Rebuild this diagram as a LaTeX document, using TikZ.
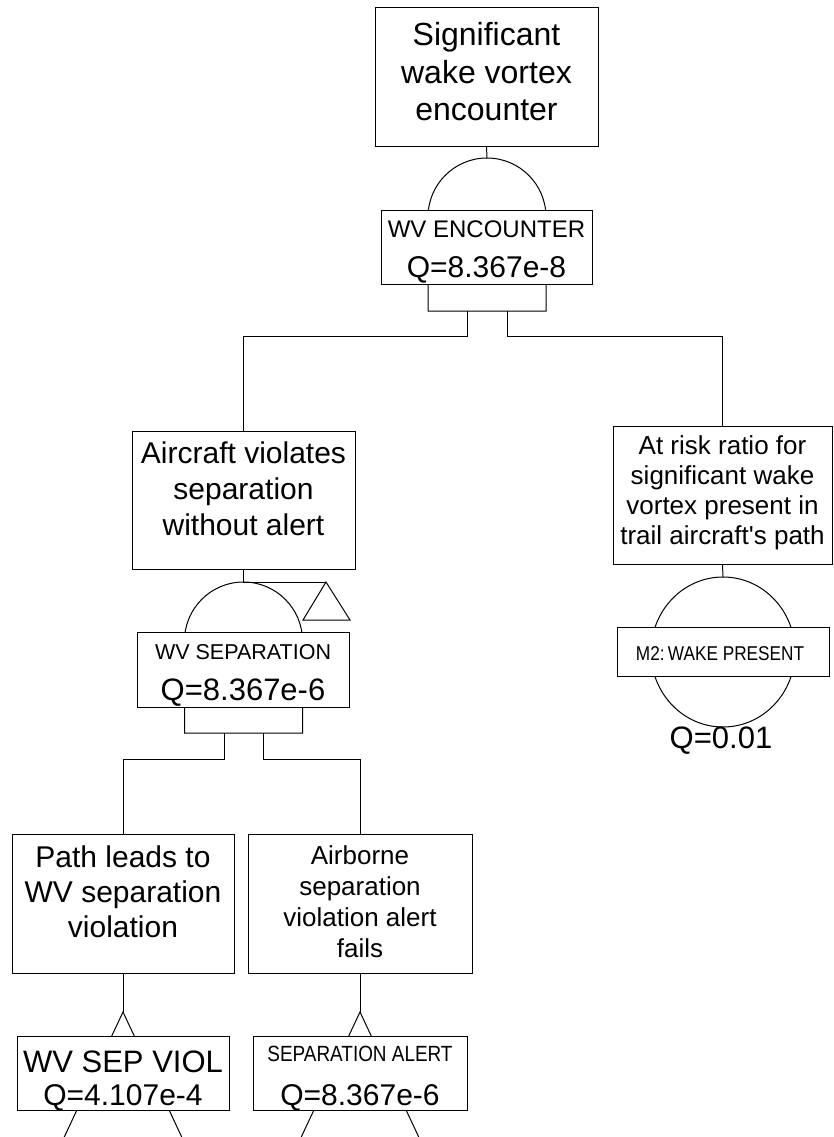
\documentclass[tikz,border=0pt]{standalone}
\usepackage{fontspec}
\setmainfont{Liberation Sans}
\newfontfamily\narrowsf[FakeStretch=0.86]{Liberation Sans}
\newcommand\setfs[2]{\fontsize{#1}{#2}\selectfont}

\begin{document}
\begin{tikzpicture}[x=1pt,y=1pt,line width=1pt,
  box/.style={draw=black,fill=white,inner sep=0pt},
  gate/.style={draw=black,fill=white,line join=miter},
  wire/.style={draw=black,line join=miter},
  txt/.style={inner sep=0pt,align=center,text=black}]
\useasboundingbox[fill=white] (0,0) rectangle (833,-1137);

% ---------- event boxes ----------
\node[box,minimum width=223pt,minimum height=138pt] (top)  at (486.5,-77)   {};
\node[box,minimum width=223pt,minimum height=138pt] (air)  at (243.5,-500)  {};
\node[box,minimum width=219pt,minimum height=138pt] (risk) at (722.5,-495)  {};
\node[box,minimum width=222pt,minimum height=139pt] (path) at (123,-903.5)  {};
\node[box,minimum width=224pt,minimum height=139pt] (alrt) at (360,-903.5)  {};

\node[txt,font=\setfs{32}{37.5}] (topT) at (486.5,-72)
  {Significant\\wake vortex\\encounter};
\node[txt,font=\setfs{30}{36}] (airT) at (243.5,-489)
  {Aircraft violates\\separation\\without alert};
\node[txt,font=\setfs{26}{30}] (riskT) at (722.5,-493)
  {At risk ratio for\\significant wake\\vortex present in\\trail aircraft\textquotesingle s path};
\node[txt,font=\setfs{30}{35}] (pathT) at (123,-892)
  {Path leads to\\WV separation\\violation};
\node[txt,font=\setfs{26}{31}] (alrtT) at (360,-902)
  {Airborne\\separation\\violation alert\\fails};

% ---------- gate anchor points ----------
\coordinate (g1top) at (487,-158);
\coordinate (g1l)   at (467,-311);
\coordinate (g1r)   at (507,-311);
\coordinate (g2top) at (243.5,-582);
\coordinate (g2l)   at (224,-733);
\coordinate (g2r)   at (263,-733);
\coordinate (xfer)  at (326,-582);
\coordinate (m2top) at (723,-577);
\coordinate (t1top) at (123,-1012);
\coordinate (t2top) at (360,-1012);

% ---------- AND gates ----------
\path[gate] (428,-311) -- (428,-217) arc[start angle=180,end angle=0,radius=59]
  -- (546,-311) -- cycle;
\path[gate] (184.5,-733) -- (184.5,-641) arc[start angle=180,end angle=0,radius=59]
  -- (302.5,-733) -- cycle;

% transfer-out triangle beside the second gate
\path[gate] (xfer) -- (303,-620) -- (350,-620) -- cycle;

% basic-event circle
\path[gate] (723,-652) ellipse[x radius=72,y radius=75];

% transfer-in triangles under the lowest events
\draw (64.25,-1137) -- (t1top) -- (181.75,-1137);
\draw (301.25,-1137) -- (t2top) -- (418.75,-1137);

% ---------- connectors ----------
\draw[wire] (top.south) -- (g1top);
\draw[wire] (g1l) -- ++(0,-25) -| (air.north);
\draw[wire] (g1r) -- ++(0,-25) -| (risk.north);
\draw[wire] (air.south) -- (g2top) -- (xfer);
\draw[wire] (g2l) -- ++(0,-26) -| (path.north);
\draw[wire] (g2r) -- ++(0,-26) -| (alrt.north);
\draw[wire] (risk.south) -- (m2top);
\draw[wire] (path.south) -- (t1top);
\draw[wire] (alrt.south) -- (t2top);

% ---------- gate label boxes ----------
\node[box,minimum width=211pt,minimum height=74pt] (g1lab) at (486.5,-247) {};
\node[txt,anchor=base,font=\setfs{24}{28}] (g1name) at (486.5,-237) {WV ENCOUNTER};
\node[txt,anchor=base,font=\setfs{30}{36}] (g1q) at (486.5,-277) {Q=8.367e-8};

\node[box,minimum width=212pt,minimum height=75pt] (g2lab) at (243,-669.5) {};
\node[txt,anchor=base,font=\setfs{21.5}{26}] (g2name) at (243,-659) {WV SEPARATION};
\node[txt,anchor=base,font=\setfs{31}{36}] (g2q) at (243,-700) {Q=8.367e-6};

\node[box,minimum width=212pt,minimum height=49pt] (m2lab) at (723,-651.5) {};
\node[txt,anchor=base,font=\narrowsf\setfs{20}{24}] (m2name) at (720,-660) {M2:\,WAKE PRESENT};
\node[txt,anchor=base,font=\setfs{31}{36}] (m2q) at (721,-748) {Q=0.01};

\node[box,minimum width=212pt,minimum height=74pt] (viol) at (123,-1073) {};
\node[txt,anchor=base,font=\setfs{31}{36}] (violname) at (123,-1072) {WV SEP VIOL};
\node[txt,anchor=base,font=\setfs{30}{36}] (violq) at (123,-1105) {Q=4.107e-4};

\node[box,minimum width=214pt,minimum height=74pt] (sal) at (360,-1073) {};
\node[txt,anchor=base,font=\narrowsf\setfs{22}{26}] (salname) at (360,-1061) {SEPARATION ALERT};
\node[txt,anchor=base,font=\setfs{30}{36}] (salq) at (360,-1105) {Q=8.367e-6};
\end{tikzpicture}
\end{document}
